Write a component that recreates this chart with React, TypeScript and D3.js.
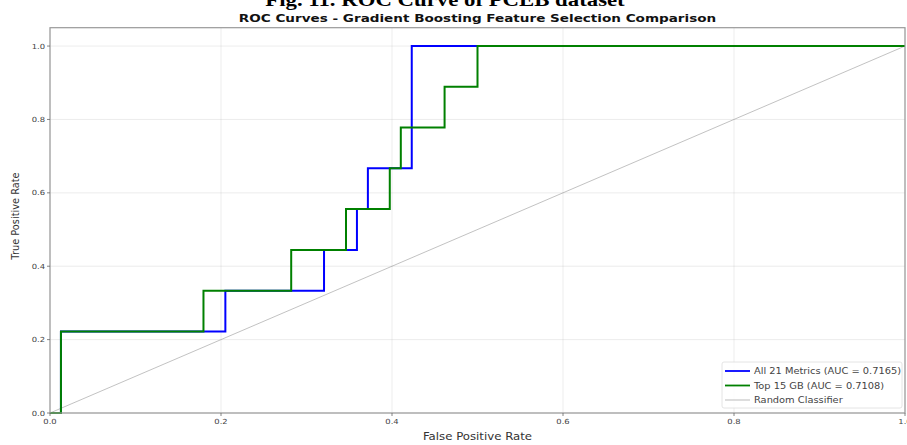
import React from "react";
import * as d3 from "d3";

const fprAll = [0, 0.0128, 0.0128, 0.2051, 0.2051, 0.3205, 0.3205, 0.359, 0.359, 0.3718, 0.3718, 0.4231, 0.4231, 1];
const tprAll = [0, 0, 0.2222, 0.2222, 0.3333, 0.3333, 0.4444, 0.4444, 0.5556, 0.5556, 0.6667, 0.6667, 1, 1];
const fprTop = [0, 0.0128, 0.0128, 0.1795, 0.1795, 0.2821, 0.2821, 0.3462, 0.3462, 0.3974, 0.3974, 0.4103, 0.4103, 0.4615, 0.4615, 0.5, 0.5, 1];
const tprTop = [0, 0, 0.2222, 0.2222, 0.3333, 0.3333, 0.4444, 0.4444, 0.5556, 0.5556, 0.6667, 0.6667, 0.7778, 0.7778, 0.8889, 0.8889, 1, 1];
const diagX = [0, 1];
const diagY = [0, 1];
const ticks = [0, 0.2, 0.4, 0.6, 0.8, 1.0];
const tickLabels = ["0.0", "0.2", "0.4", "0.6", "0.8", "1.0"];
const legendLabels = ["All 21 Metrics (AUC = 0.7165)", "Top 15 GB (AUC = 0.7108)", "Random Classifier"];

const W = 907, H = 445;
const L = 50, R = 905, B = 413, T = 27.7;
const SX = 1.2;

function SText(props: any) {
  const { x, y, children, ...rest } = props;
  return (
    <text transform={`translate(${x},${y}) scale(${SX},1)`} {...rest}>{children}</text>
  );
}

export default function App() {
  const x = d3.scaleLinear().domain([0, 1]).range([L, R]);
  const y = d3.scaleLinear().domain([0, 1.05]).range([B, T]);
  const line = d3.line<[number, number]>().x(d => x(d[0])).y(d => y(d[1]));
  const allPts = fprAll.map((f, i) => [f, tprAll[i]] as [number, number]);
  const topPts = fprTop.map((f, i) => [f, tprTop[i]] as [number, number]);
  const diagPts = diagX.map((f, i) => [f, diagY[i]] as [number, number]);
  const font = "DejaVu Sans, sans-serif";
  const legendColors = ["#0000ff", "#008000", "#bbbbbb"];
  return (
    <svg width={W} height={H} style={{ position: "absolute", left: 0, top: 0, background: "#fff" }}>
      <SText x={445} y={6} textAnchor="middle" fontFamily="Liberation Serif, serif" fontWeight="bold" fontSize={19}>Fig. 11. ROC Curve of PCEB dataset</SText>
      <SText x={(L + R) / 2} y={22} textAnchor="middle" fontFamily={font} fontWeight="bold" fontSize={11.3} fill="#111">ROC Curves - Gradient Boosting Feature Selection Comparison</SText>
      {ticks.map((t, i) => (
        <g key={"g" + i}>
          <line x1={x(t)} x2={x(t)} y1={T} y2={B} stroke="#b0b0b0" strokeOpacity={0.3} strokeWidth={0.8} />
          <line x1={L} x2={R} y1={y(t)} y2={y(t)} stroke="#b0b0b0" strokeOpacity={0.3} strokeWidth={0.8} />
        </g>
      ))}
      <path d={line(diagPts) || ""} fill="none" stroke="#999" strokeOpacity={0.6} strokeWidth={1} />
      <path d={line(allPts) || ""} fill="none" stroke="#0000ff" strokeWidth={2} />
      <path d={line(topPts) || ""} fill="none" stroke="#008000" strokeWidth={2} />
      <rect x={L} y={T} width={R - L} height={B - T} fill="none" stroke="#999" strokeWidth={1.2} />
      {ticks.map((t, i) => (
        <g key={"t" + i} fontFamily={font} fontSize={7} fill="#444">
          <line x1={x(t)} x2={x(t)} y1={B} y2={B + 3} stroke="#666" strokeWidth={0.8} />
          <SText x={x(t)} y={B + 11} textAnchor="middle">{tickLabels[i]}</SText>
          <line x1={L - 3} x2={L} y1={y(t)} y2={y(t)} stroke="#666" strokeWidth={0.8} />
          <SText x={L - 5} y={y(t) + 2.5} textAnchor="end">{tickLabels[i]}</SText>
        </g>
      ))}
      <SText x={(L + R) / 2} y={440} textAnchor="middle" fontFamily={font} fontSize={9.8} fill="#333">False Positive Rate</SText>
      <text transform={`translate(19, 216) rotate(-90)`} textAnchor="middle" fontFamily={font} fontSize={9.8} fill="#333">True Positive Rate</text>
      <g>
        <rect x={722} y={362} width={180} height={46} fill="#fff" fillOpacity={0.85} stroke="#ddd" strokeWidth={0.8} rx={2} />
        {legendLabels.map((lab, i) => (
          <g key={"l" + i}>
            <line x1={725} x2={750} y1={371 + i * 14.5} y2={371 + i * 14.5} stroke={legendColors[i]} strokeWidth={i < 2 ? 1.8 : 1} />
            <SText x={754} y={374 + i * 14.5} fontFamily={font} fontSize={8.2} fill="#444">{lab}</SText>
          </g>
        ))}
      </g>
    </svg>
  );
}
